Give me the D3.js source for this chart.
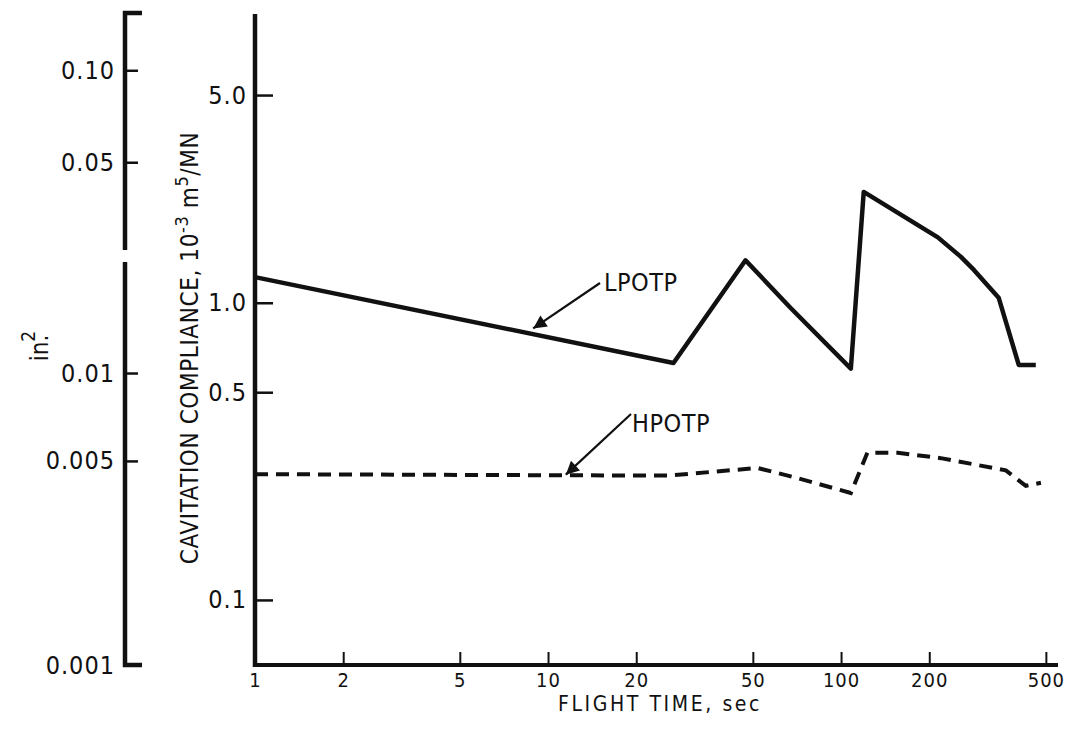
<!DOCTYPE html>
<html>
<head>
<meta charset="utf-8">
<script src="https://cdn.jsdelivr.net/npm/d3@7"></script>
<style>
  body { margin: 0; background: #fff; }
  text { font-family: "Liberation Sans Narrow", "DejaVu Sans Condensed", "Liberation Sans", sans-serif; fill: #111; }
</style>
</head>
<body>
<script>
// data
var lpotpTime = [1, 26.8, 47.2, 67.3, 108, 119.5, 214, 256, 284, 345, 404, 462];
var lpotpComp = [1.22, 0.627, 1.39, 0.96, 0.60, 2.36, 1.66, 1.43, 1.29, 1.04, 0.618, 0.618];

var hpotpTime = [1, 25.6, 51.9, 70, 108, 123, 156, 219, 365, 427, 481];
var hpotpComp = [0.265, 0.262, 0.278, 0.258, 0.229, 0.313, 0.313, 0.30, 0.273, 0.242, 0.248];

var xTicks = [1, 2, 5, 10, 20, 50, 100, 200, 500];
var yTicks = [5.0, 1.0, 0.5, 0.1];
var yTickLabels = ["5.0", "1.0", "0.5", "0.1"];
var in2UpperTicks = [0.10, 0.05];
var in2UpperLabels = ["0.10", "0.05"];
var in2LowerTicks = [0.01, 0.005, 0.001];
var in2LowerLabels = ["0.01", "0.005", "0.001"];

var width = 1068, height = 747;

var svg = d3.select("body").append("svg")
    .attr("width", width)
    .attr("height", height);

// scales
var x = d3.scaleLog().domain([1, 550]).range([255, 1058]);
var y = d3.scaleLog().domain([0.0604, 9.37]).range([665, 14]);
// in.^2 axis is broken in two pieces
var yUp = d3.scaleLog().domain([0.0258, 0.154]).range([250, 13]);
var yLo = d3.scaleLog().domain([0.001, 0.024]).range([665, 262]);

// main y axis
svg.append("line")
    .attr("x1", x(1)).attr("x2", x(1))
    .attr("y1", y.range()[1]).attr("y2", y.range()[0] + 2)
    .attr("stroke", "#111").attr("stroke-width", 4.5);

svg.append("g")
    .attr("transform", "translate(" + x(1) + ",0)")
    .call(d3.axisRight(y).tickValues(yTicks).tickSize(18).tickFormat(""))
    .call(g => g.select(".domain").remove())
    .selectAll("line").attr("stroke", "#111").attr("stroke-width", 2.5);

svg.append("g")
    .attr("transform", "translate(" + (x(1) - 6) + ",0)")
    .call(d3.axisLeft(y).tickValues(yTicks).tickSize(0).tickPadding(2)
        .tickFormat((d, i) => yTickLabels[i]))
    .call(g => g.select(".domain").remove())
    .selectAll("text")
    .style("font-size", "25px")
    .style("letter-spacing", "1px");

// x axis
svg.append("line")
    .attr("x1", x(1) - 2).attr("x2", x.range()[1])
    .attr("y1", y.range()[0]).attr("y2", y.range()[0])
    .attr("stroke", "#111").attr("stroke-width", 4);

svg.append("g")
    .attr("transform", "translate(0," + y.range()[0] + ")")
    .call(d3.axisTop(x).tickValues(xTicks.slice(1)).tickSize(13).tickFormat(""))
    .call(g => g.select(".domain").remove())
    .selectAll("line").attr("stroke", "#111").attr("stroke-width", 2);

svg.append("g")
    .attr("transform", "translate(0," + y.range()[0] + ")")
    .call(d3.axisBottom(x).tickValues(xTicks).tickSize(0).tickPadding(8)
        .tickFormat(d3.format("d")))
    .call(g => g.select(".domain").remove())
    .selectAll("text")
    .style("font-size", "20px")
    .style("letter-spacing", "1px");

// secondary in.^2 axis
var ax2 = 125;
svg.append("path")
    .attr("d", "M" + (ax2 + 17) + "," + yUp.range()[1] + "H" + ax2 + "V" + yUp.range()[0])
    .attr("fill", "none").attr("stroke", "#111").attr("stroke-width", 4.5);
svg.append("path")
    .attr("d", "M" + ax2 + "," + yLo.range()[1] + "V" + yLo.range()[0] + "H" + (ax2 + 17))
    .attr("fill", "none").attr("stroke", "#111").attr("stroke-width", 4.5);

[[yUp, in2UpperTicks, in2UpperLabels], [yLo, in2LowerTicks, in2LowerLabels]].forEach(function(s) {
    var sc = s[0], ticks = s[1], labels = s[2];
    svg.append("g")
        .attr("transform", "translate(" + ax2 + ",0)")
        .call(d3.axisRight(sc).tickValues(ticks.filter(d => d !== 0.001)).tickSize(13).tickFormat(""))
        .call(g => g.select(".domain").remove())
        .selectAll("line").attr("stroke", "#111").attr("stroke-width", 2.5);
    svg.append("g")
        .attr("transform", "translate(" + (ax2 - 8) + ",0)")
        .call(d3.axisLeft(sc).tickValues(ticks).tickSize(0).tickPadding(2)
            .tickFormat((d, i) => labels[i]))
        .call(g => g.select(".domain").remove())
        .selectAll("text")
        .style("font-size", "25px")
        .style("letter-spacing", "1px");
});

// axis titles
svg.append("text")
    .attr("x", 660).attr("y", 711)
    .attr("text-anchor", "middle")
    .style("font-size", "21px")
    .style("letter-spacing", "2.6px")
    .text("FLIGHT TIME, sec");

var yt = svg.append("text")
    .attr("transform", "translate(198,348) rotate(-90)")
    .attr("text-anchor", "middle")
    .style("font-size", "24px")
    .style("letter-spacing", "0.6px");
yt.append("tspan").text("CAVITATION COMPLIANCE, 10");
yt.append("tspan").attr("dy", -10).style("font-size", "18px").text("-3");
yt.append("tspan").attr("dy", 10).text(" m");
yt.append("tspan").attr("dy", -10).style("font-size", "18px").text("5");
yt.append("tspan").attr("dy", 10).text("/MN");

var it = svg.append("text")
    .attr("transform", "translate(48,346) rotate(-90)")
    .attr("text-anchor", "middle")
    .style("font-size", "24px");
it.append("tspan").text("in.");
it.append("tspan").attr("dx", -7).attr("dy", -13).style("font-size", "19px").text("2");

// lines
var lpotp = lpotpTime.map((t, i) => [t, lpotpComp[i]]);
var hpotp = hpotpTime.map((t, i) => [t, hpotpComp[i]]);
var line = d3.line().x(d => x(d[0])).y(d => y(d[1]));

svg.append("path")
    .datum(lpotp)
    .attr("d", line)
    .attr("fill", "none")
    .attr("stroke", "#111")
    .attr("stroke-width", 4.5)
    .attr("stroke-linejoin", "round");

svg.append("path")
    .datum(hpotp)
    .attr("d", line)
    .attr("fill", "none")
    .attr("stroke", "#111")
    .attr("stroke-width", 4)
    .attr("stroke-dasharray", "13,8");

// labels with arrows
svg.append("defs").append("marker")
    .attr("id", "arr")
    .attr("viewBox", "0 0 10 10")
    .attr("refX", 10).attr("refY", 5)
    .attr("markerWidth", 8).attr("markerHeight", 6)
    .attr("markerUnits", "strokeWidth")
    .attr("orient", "auto")
  .append("path")
    .attr("d", "M0,0L10,5L0,10z")
    .attr("fill", "#111");

function callout(label, tx, ty, fromX, fromY, toT, toV) {
    svg.append("line")
        .attr("x1", fromX).attr("y1", fromY)
        .attr("x2", x(toT)).attr("y2", y(toV))
        .attr("stroke", "#111").attr("stroke-width", 2.2)
        .attr("marker-end", "url(#arr)");
    svg.append("text")
        .attr("x", tx).attr("y", ty)
        .style("font-size", "25px")
        .style("letter-spacing", "0.5px")
        .text(label);
}

callout("LPOTP", 604, 291, 600, 283, 8.9, 0.82);
callout("HPOTP", 632, 432, 631, 414, 11.5, 0.264);
</script>
</body>
</html>
